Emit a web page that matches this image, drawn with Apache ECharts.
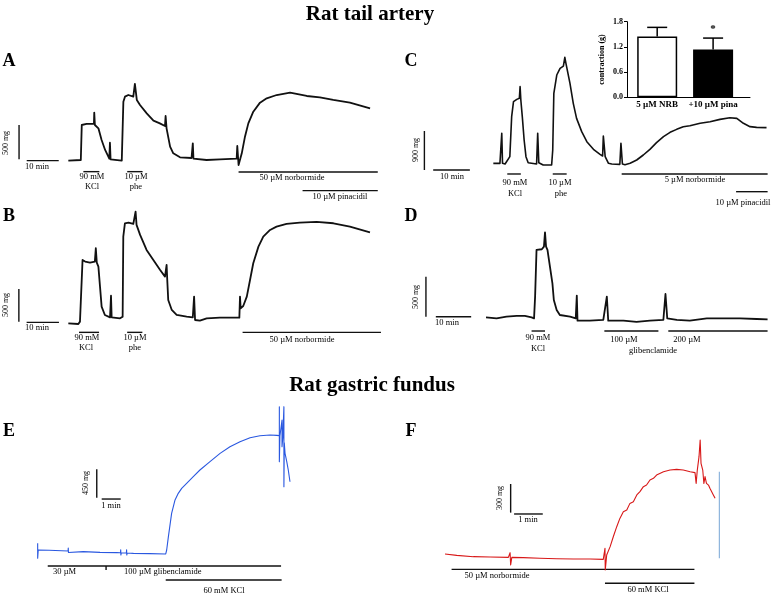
<!DOCTYPE html>
<html>
<head>
<meta charset="utf-8">
<script src="https://cdn.jsdelivr.net/npm/echarts@6/dist/echarts.min.js"></script>
<style>
  html, body { margin: 0; padding: 0; background: #fff; }
  #chart { width: 772px; height: 597px; }
</style>
</head>
<body>
<div id="chart"></div>
<script>
// ---- traces: [time (min), tension (mg)] ----
const traceA = [[0,0],[3.9,10],[4.2,520],[5.7,535],[8.0,535],[8.1,700],[8.3,520],[9.4,471],[10.4,301],[11.5,156],[12.8,29],[13.0,262],[13.2,19],[13.5,0],[16.7,0],[17.2,860],[17.7,933],[18.75,957],[20.3,933],[20.8,1118],[21.4,885],[22.4,812],[24.5,690],[26.6,583],[28.6,544],[30.2,505],[30.4,651],[30.7,471],[31.8,204],[32.8,107],[34.9,49],[38.5,39],[38.9,253],[39.1,29],[43.2,10],[47.4,19],[52.6,29],[52.8,214],[53.2,-63],[54.2,107],[55.2,350],[56.25,544],[57.8,714],[59.9,846],[62.0,909],[65.1,957],[69.3,991],[74.5,943],[78.6,923],[82.8,885],[88.0,846],[94.3,763]];
const traceB = [[0,0],[3.1,-10],[3.6,26],[4.1,51],[4.4,969],[5.2,944],[6.7,928],[8.2,944],[8.5,1148],[8.8,928],[9.3,867],[9.8,561],[10.3,255],[11.3,128],[12.9,92],[13.2,423],[13.4,92],[16.0,77],[16.8,102],[17.0,1326],[17.5,1530],[18.6,1540],[20.1,1520],[20.8,1709],[21.1,1505],[22.2,1352],[24.2,1122],[26.3,969],[28.4,816],[29.9,714],[30.2,689],[30.4,893],[30.6,663],[30.9,357],[32.0,204],[33.5,128],[36.6,102],[38.5,92],[38.9,408],[39.2,51],[40.7,41],[42.8,77],[46.9,87],[52.9,87],[53.1,408],[53.3,230],[54.1,265],[55.2,408],[56.2,663],[57.2,918],[58.8,1173],[60.3,1326],[62.4,1428],[64.4,1479],[67.5,1520],[71.6,1540],[76.8,1550],[82.0,1530],[87.1,1479],[93.3,1392]];
const traceC = [[0,0],[1.8,0],[2.3,692],[2.5,0],[3.2,-15],[4.5,154],[5.0,1077],[5.5,1423],[6.4,1476],[7.1,1500],[7.3,1769],[7.5,1461],[7.9,1077],[8.4,538],[8.9,154],[9.5,15],[11.8,-15],[12.1,692],[12.4,15],[13.6,-38],[15.9,-38],[16.2,308],[16.5,1615],[17.3,2038],[18.2,2192],[19.1,2245],[19.5,2445],[19.8,2307],[20.2,2269],[20.9,1846],[21.8,1384],[22.7,1038],[24.1,731],[25.5,500],[27.3,323],[29.1,208],[29.8,169],[30.0,631],[30.5,154],[31.4,0],[32.3,-15],[34.5,-23],[34.8,461],[35.2,-15],[35.9,-31],[37.3,0],[39.1,77],[40.9,192],[42.7,323],[44.5,477],[46.4,615],[48.2,715],[50.0,784],[51.8,846],[53.6,869],[56.4,923],[59.1,961],[61.8,1015],[64.5,1053],[66.4,1038],[68.2,923],[70.0,846],[71.8,830],[74.5,823]];
const traceD = [[0,0],[3.0,-13],[5.8,8],[8.7,17],[11.0,17],[12.9,0],[13.6,-13],[13.9,259],[14.3,842],[14.8,863],[15.8,851],[16.4,884],[16.7,1063],[17.0,884],[17.4,842],[18.1,634],[18.8,425],[19.2,217],[20.0,92],[20.9,29],[23.8,8],[25.4,-13],[25.7,271],[25.9,-42],[29.4,-42],[33.2,-33],[34.2,259],[34.6,-42],[38.9,-42],[42.6,-58],[46.4,-42],[50.2,-33],[50.8,292],[51.3,-13],[54.0,-33],[57.7,-42],[62.5,-13],[67.2,-13],[71.9,-13],[76.6,-21],[79.7,-25]];
const traceE = [[0,106],[0,-132],[0.03,0],[0.6,-5],[0.61,25],[0.62,-30],[0.65,-5],[1.6,-16],[1.61,30],[1.62,-40],[1.64,-17],[2.4,-26],[3.28,-37],[4.16,-42],[4.36,-44],[4.37,5],[4.38,-80],[4.4,-45],[4.67,-47],[4.68,5],[4.69,-80],[4.71,-48],[5.04,-53],[5.91,-58],[6.74,-63],[6.79,0],[6.88,212],[7.05,582],[7.23,794],[7.4,899],[7.58,979],[7.84,1058],[8.19,1164],[8.54,1270],[9.07,1402],[9.6,1534],[10.12,1640],[10.65,1719],[11.18,1783],[11.7,1814],[12.23,1825],[12.58,1820],[12.72,1815],[12.72,2275],[12.72,1402],[12.75,1809],[12.86,2063],[12.86,1640],[12.9,1780],[12.96,2275],[12.96,1005],[12.98,1700],[13.02,1534],[13.11,1402],[13.19,1270],[13.28,1084]];
const traceF = [[0,0],[0.41,-14],[0.99,-28],[1.57,-31],[2.21,-35],[2.27,14],[2.29,-115],[2.33,-35],[2.73,-38],[3.31,-45],[3.9,-49],[4.48,-52],[5.06,-52],[5.52,-56],[5.58,59],[5.59,-168],[5.64,-10],[5.76,77],[5.87,181],[5.99,286],[6.1,373],[6.22,443],[6.34,461],[6.45,530],[6.57,548],[6.69,618],[6.8,653],[6.92,705],[7.03,722],[7.15,775],[7.27,792],[7.38,827],[7.62,862],[7.85,879],[8.08,886],[8.31,879],[8.55,862],[8.72,852],[8.76,740],[8.8,879],[8.86,1019],[8.9,1194],[8.93,949],[8.99,879],[9.03,740],[9.07,810],[9.12,740],[9.19,722],[9.24,688],[9.36,618],[9.42,583]];
const markerF = [[9.57, 862], [9.57, -45]];

// ---- scale bars: [x0, y0, x1, y1] ----
const scaleA = [[-15.4, 20, -15.4, 520], [-13.0, 0, -3.0, 0]];
const scaleB = [[-15.3, 25, -15.3, 525], [-12.9, 15, -2.9, 15]];
const scaleC = [[-18.8, -154, -18.8, 746], [-16.4, -154, -6.4, -154]];
const scaleD = [[-17.0, 8, -17.0, 508], [-14.2, 8, -4.2, 8]];
const scaleE = [[3.11, 831, 3.11, 1281], [3.37, 809, 4.37, 809]];
const scaleF = [[2.29, 433, 2.29, 733], [2.41, 419, 3.41, 419]];

// ---- drug application periods: [from, to, level] ----
const drugsA = [[4.7, 9.7, -160], [18.4, 23.2, -160], [53.2, 96.7, -165], [73.2, 96.7, -437]];
const drugsB = [[3.3, 9.5, -138], [18.2, 22.9, -138], [53.9, 96.7, -138]];
const drugsC = [[3.8, 7.5, -246], [16.2, 20.0, -246], [35.0, 74.8, -246], [66.2, 74.8, -654]];
const drugsD = [[12.9, 16.7, -171], [33.5, 48.8, -171], [51.6, 79.7, -171]];
const drugsE = [[0.53, 12.81, -254], [6.74, 12.84, -476]];
const drugsF = [[0.23, 8.70, -161], [5.58, 8.70, -307]];
const tickE = [[3.6, -254, 3.6, -317]];

// ---- inset bar chart ----
const insetLabels = ['5 \u00b5M NRB', '+10 \u00b5M pina'];
const insetMeans = [1.45, 1.14];
const insetErr = [0.215, 0.27];
const insetSig = ['', '*'];

const W = 772, H = 597;
const FONT = '"Liberation Serif", "Times New Roman", serif';

// pixel placement of each panel (origin of trace and scale per unit)
const layout = {
  A: { px0: 68.33, py0: 160.67, pxPerMin: 3.2, pxPerMg: 34.3 / 500 },
  B: { px0: 68.33, py0: 323.33, pxPerMin: 3.233, pxPerMg: 32.7 / 500 },
  C: { px0: 493.33, py0: 163.33, pxPerMin: 3.667, pxPerMg: 39 / 900 },
  D: { px0: 486, py0: 317.33, pxPerMin: 3.533, pxPerMg: 40 / 500 },
  E: { px0: 37.67, py0: 550, pxPerMin: 19, pxPerMg: 28.35 / 450 },
  F: { px0: 445, py0: 554, pxPerMin: 28.67, pxPerMg: 28.65 / 300 }
};

const panels = [
  { key: 'A', trace: traceA, scale: scaleA, drugs: drugsA, color: '#111', width: 1.8 },
  { key: 'B', trace: traceB, scale: scaleB, drugs: drugsB, color: '#111', width: 1.8 },
  { key: 'C', trace: traceC, scale: scaleC, drugs: drugsC, color: '#111', width: 1.6 },
  { key: 'D', trace: traceD, scale: scaleD, drugs: drugsD, color: '#111', width: 1.8 },
  { key: 'E', trace: traceE, scale: scaleE.concat(tickE), drugs: drugsE, color: '#2a58e0', width: 1.1 },
  { key: 'F', trace: traceF, scale: scaleF, drugs: drugsF, color: '#d81818', width: 1.1 }
];

const grid = [], xAxis = [], yAxis = [], series = [];

function segSeries(idx, segs, color, width) {
  return {
    type: 'custom',
    xAxisIndex: idx,
    yAxisIndex: idx,
    silent: true,
    animation: false,
    encode: { x: [0, 2], y: [1, 3] },
    data: segs,
    renderItem: function (params, api) {
      const p0 = api.coord([api.value(0), api.value(1)]);
      const p1 = api.coord([api.value(2), api.value(3)]);
      return {
        type: 'line',
        shape: { x1: p0[0], y1: p0[1], x2: p1[0], y2: p1[1] },
        style: { stroke: color, lineWidth: width }
      };
    }
  };
}

panels.forEach(function (p, i) {
  const l = layout[p.key];
  grid.push({ left: 0, top: 0, width: W, height: H });
  xAxis.push({
    type: 'value', gridIndex: i, show: false,
    min: -l.px0 / l.pxPerMin, max: (W - l.px0) / l.pxPerMin
  });
  yAxis.push({
    type: 'value', gridIndex: i, show: false,
    min: -(H - l.py0) / l.pxPerMg, max: l.py0 / l.pxPerMg
  });
  series.push({
    type: 'line',
    xAxisIndex: i,
    yAxisIndex: i,
    data: p.trace,
    showSymbol: false,
    silent: true,
    animation: false,
    lineStyle: { color: p.color, width: p.width, join: 'round' }
  });
  series.push(segSeries(i, p.scale, '#111', 1.4));
  series.push(segSeries(i, p.drugs.map(function (d) { return [d[0], d[2], d[1], d[2]]; }), '#111', 1.4));
});

// light-blue marker at end of F
series.push({
  type: 'line', xAxisIndex: 5, yAxisIndex: 5, data: markerF, showSymbol: false,
  silent: true, animation: false, lineStyle: { color: '#8db4dc', width: 1.2 }
});

// inset grid
const insetIdx = panels.length;
const barX = [0.54, 1.54];
grid.push({ left: 627, top: 21.7, width: 123, height: 75.6 });
xAxis.push({
  type: 'value', gridIndex: insetIdx, min: 0, max: 2.2,
  axisLine: { show: true, onZero: false, lineStyle: { color: '#000', width: 1 } },
  axisTick: { show: false },
  splitLine: { show: false },
  axisLabel: {
    customValues: barX,
    formatter: function (v) { return insetLabels[barX.indexOf(v)] || ''; },
    fontFamily: FONT, fontWeight: 'bold', fontSize: 9, color: '#000', margin: 3
  }
});
yAxis.push({
  type: 'value', gridIndex: insetIdx, min: 0, max: 1.8, interval: 0.6,
  name: 'contraction (g)', nameLocation: 'middle', nameRotate: 90, nameGap: 21,
  nameTextStyle: { fontFamily: FONT, fontWeight: 'bold', fontSize: 8, color: '#000' },
  axisLine: { show: true, lineStyle: { color: '#000', width: 1 } },
  axisTick: { show: true, length: 3, lineStyle: { color: '#000' } },
  splitLine: { show: false },
  axisLabel: {
    formatter: function (v) { return v.toFixed(1); },
    fontFamily: FONT, fontWeight: 'bold', fontSize: 8, color: '#000', margin: 4
  }
});
series.push({
  type: 'bar', xAxisIndex: insetIdx, yAxisIndex: insetIdx, barWidth: 40,
  silent: true, animation: false,
  data: insetMeans.map(function (m, i) {
    return {
      value: [barX[i], m],
      itemStyle: i === 0
        ? { color: '#fff', borderColor: '#000', borderWidth: 1.5 }
        : { color: '#000', borderColor: '#000', borderWidth: 1.5 }
    };
  })
});
series.push({
  type: 'custom', xAxisIndex: insetIdx, yAxisIndex: insetIdx, silent: true, animation: false,
  encode: { x: 0, y: [1, 2] },
  data: insetMeans.map(function (m, i) { return [barX[i], m, m + insetErr[i]]; }),
  renderItem: function (params, api) {
    const lo = api.coord([api.value(0), api.value(1)]);
    const hi = api.coord([api.value(0), api.value(2)]);
    const st = { stroke: '#000', lineWidth: 1.5 };
    const children = [
      { type: 'line', shape: { x1: lo[0], y1: lo[1], x2: hi[0], y2: hi[1] }, style: st },
      { type: 'line', shape: { x1: hi[0] - 10, y1: hi[1], x2: hi[0] + 10, y2: hi[1] }, style: st }
    ];
    const sig = insetSig[params.dataIndex];
    if (sig) {
      children.push({
        type: 'text',
        style: { text: sig, x: hi[0], y: hi[1] - 3, align: 'center', verticalAlign: 'bottom',
          font: 'bold 11px ' + FONT, fill: '#000' }
      });
    }
    return { type: 'group', children: children };
  }
});

// ---- texts ----
function txt(text, x, y, size, opt) {
  opt = opt || {};
  return {
    type: 'text', x: x, y: y, rotation: opt.rot || 0, silent: true,
    style: {
      text: text,
      font: (opt.bold ? 'bold ' : '') + size + 'px ' + FONT,
      fill: '#000',
      align: opt.align || 'center',
      verticalAlign: 'middle'
    }
  };
}
const R = Math.PI / 2;
const mu = '\u00b5';
const graphic = [
  txt('Rat tail artery', 370, 15, 21, { bold: true }),
  txt('Rat gastric fundus', 372, 386, 21, { bold: true }),
  txt('A', 9, 61, 18, { bold: true }),
  txt('B', 9, 216, 18, { bold: true }),
  txt('C', 411, 61, 18, { bold: true }),
  txt('D', 411, 216, 18, { bold: true }),
  txt('E', 9, 431, 18, { bold: true }),
  txt('F', 411, 431, 18, { bold: true }),
  // scale labels
  txt('500 mg', 6, 143, 8, { rot: R }),
  txt('10 min', 37, 167, 8.5),
  txt('500 mg', 6, 305, 8, { rot: R }),
  txt('10 min', 37, 328, 8.5),
  txt('900 mg', 416, 150, 8, { rot: R }),
  txt('10 min', 452, 177, 8.5),
  txt('500 mg', 416, 297, 8, { rot: R }),
  txt('10 min', 447, 323, 8.5),
  txt('450 mg', 86, 483, 8, { rot: R }),
  txt('1 min', 111, 506, 8.5),
  txt('300 mg', 500, 498, 8, { rot: R }),
  txt('1 min', 528, 520, 8.5),
  // drug labels A
  txt('90 mM', 92, 177, 8.5), txt('KCl', 92, 187, 8.5),
  txt('10 ' + mu + 'M', 136, 177, 8.5), txt('phe', 136, 187, 8.5),
  txt('50 ' + mu + 'M norbormide', 292, 178, 8.5),
  txt('10 ' + mu + 'M pinacidil', 340, 197, 8.5),
  // B
  txt('90 mM', 87, 338, 8.5), txt('KCl', 86, 348, 8.5),
  txt('10 ' + mu + 'M', 135, 338, 8.5), txt('phe', 135, 348, 8.5),
  txt('50 ' + mu + 'M norbormide', 302, 340, 8.5),
  // C
  txt('90 mM', 515, 183, 8.5), txt('KCl', 515, 194, 8.5),
  txt('10 ' + mu + 'M', 560, 183, 8.5), txt('phe', 561, 194, 8.5),
  txt('5 ' + mu + 'M norbormide', 695, 180, 8.5),
  txt('10 ' + mu + 'M pinacidil', 743, 203, 8.5),
  // D
  txt('90 mM', 538, 338, 8.5), txt('KCl', 538, 349, 8.5),
  txt('100 ' + mu + 'M', 624, 340, 8.5),
  txt('glibenclamide', 653, 351, 8.5),
  txt('200 ' + mu + 'M', 687, 340, 8.5),
  // E
  txt('30 ' + mu + 'M', 53, 572, 8.5, { align: 'left' }),
  txt('100 ' + mu + 'M glibenclamide', 124, 572, 8.5, { align: 'left' }),
  txt('60 mM KCl', 224, 591, 8.5),
  // F
  txt('50 ' + mu + 'M norbormide', 497, 576, 8.5),
  txt('60 mM KCl', 648, 590, 8.5)
];

const chart = echarts.init(document.getElementById('chart'));
chart.setOption({
  backgroundColor: '#fff',
  animation: false,
  grid: grid,
  xAxis: xAxis,
  yAxis: yAxis,
  series: series,
  graphic: graphic
});
</script>
</body>
</html>
